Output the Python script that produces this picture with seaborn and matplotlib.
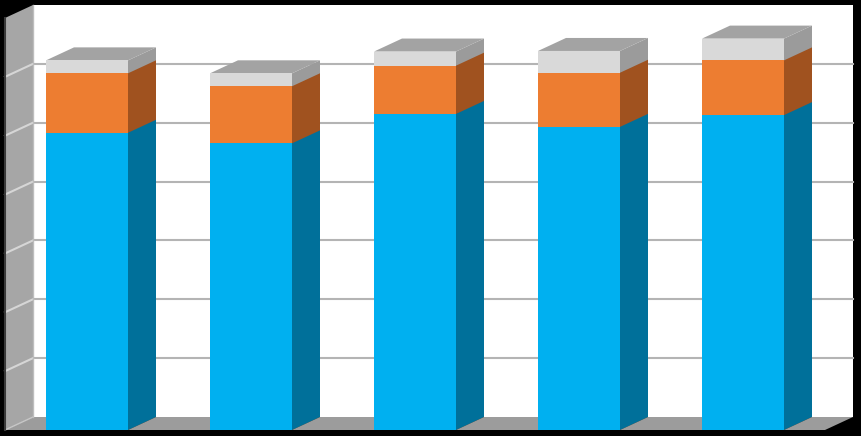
import numpy as np
import pandas as pd
import matplotlib
matplotlib.use("Agg")
import matplotlib.pyplot as plt
from matplotlib.patches import Polygon
import seaborn as sns

# values (front plane, 1 unit = one gridline)
groups = ["G1", "G2", "G3", "G4", "G5"]
blue_vals = [5.05, 4.87, 5.37, 5.15, 5.35]
orange_vals = [1.01, 0.97, 0.82, 0.92, 0.93]
grey_vals = [0.22, 0.22, 0.24, 0.37, 0.37]

front_cols = ["#00B0F0", "#ED7D31", "#D9D9D9"]
side_cols = ["#00709A", "#A0521F", "#9B9B9B"]
top_col = "#A3A3A3"

df = pd.DataFrame({"group": groups, "blue": blue_vals,
                   "orange": orange_vals, "grey": grey_vals})
df["lvl0"] = df["blue"]
df["lvl1"] = df["lvl0"] + df["orange"]
df["lvl2"] = df["lvl1"] + df["grey"]

fig = plt.figure(figsize=(8.62, 4.36), dpi=100, facecolor="black")
ax = fig.add_axes([5 / 862, 6 / 436, 820 / 862, 412 / 436])
ax.set_xlim(-0.5, 4.5)
ax.set_ylim(0, 7)

# depth offset of 28px right, 13px up, in data units
inv = ax.transData.inverted()
p0 = ax.transData.transform((0, 0))
dx, dy = inv.transform(p0 + np.array([28, 13])) - inv.transform(p0)

# back wall, floor, left wall
ax.add_patch(Polygon([(-0.5 + dx, dy), (4.5 + dx, dy), (4.5 + dx, 7 + dy), (-0.5 + dx, 7 + dy)],
                     closed=True, facecolor="white", edgecolor="none", zorder=0, clip_on=False))
for v in range(1, 7):
    ax.plot([-0.5 + dx, 4.5 + dx], [v + dy, v + dy], color="#B4B4B4", lw=1.5, zorder=1, clip_on=False)
ax.add_patch(Polygon([(-0.5, 0), (4.5, 0), (4.5 + dx, dy), (-0.5 + dx, dy)],
                     closed=True, facecolor="#9C9C9C", edgecolor="none", zorder=1, clip_on=False))
ax.add_patch(Polygon([(-0.5, 0), (-0.5, 7), (-0.5 + dx, 7 + dy), (-0.5 + dx, dy)],
                     closed=True, facecolor="#A6A6A6", edgecolor="none", zorder=1, clip_on=False))
for v in range(1, 7):
    ax.plot([-0.5, -0.5 + dx], [v, v + dy], color="#D6D6D6", lw=1.5, zorder=2, clip_on=False)
ax.plot([-0.5, -0.5 + dx], [0, dy], color="#C8C8C8", lw=1, zorder=2, clip_on=False)
ax.plot([-0.5 + dx, -0.5 + dx], [dy, 7 + dy], color="#BDBDBD", lw=1, zorder=2, clip_on=False)
ax.plot([-0.5, -0.5], [0, 7], color="#3A3A3A", lw=1.5, zorder=2, clip_on=False)

# stacked bars, tallest level first
for i in [2, 1, 0]:
    n_before = len(ax.patches)
    sns.barplot(data=df, x="group", y="lvl%d" % i, color=front_cols[i], saturation=1,
                width=0.5, errorbar=None, linewidth=0, edgecolor="none", zorder=5, ax=ax)
    for p in ax.patches[n_before:]:
        if p.get_zorder() != 5:
            continue
        x, w, h = p.get_x(), p.get_width(), p.get_height()
        ax.add_patch(Polygon([(x + w, 0), (x + w + dx, dy), (x + w + dx, h + dy), (x + w, h)],
                             closed=True, facecolor=side_cols[i], edgecolor="none", zorder=4))
        if i == 2:
            ax.add_patch(Polygon([(x, h), (x + w, h), (x + w + dx, h + dy), (x + dx, h + dy)],
                                 closed=True, facecolor=top_col, edgecolor="none", zorder=4))

ax.set_xlim(-0.5, 4.5)
ax.set_ylim(0, 7)
ax.axis("off")

fig.savefig("out.png", dpi=100, facecolor="black")
